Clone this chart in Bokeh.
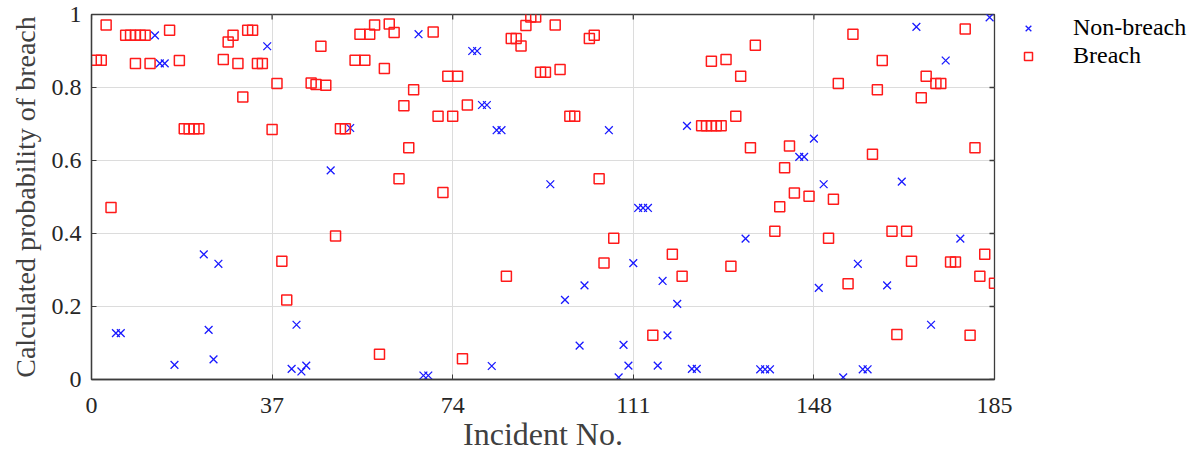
from bokeh.plotting import figure
from bokeh.models import Range1d, FixedTicker, Legend, LegendItem
from bokeh.embed import file_html
from bokeh.resources import INLINE

# Incidents predicted as non-breach (blue crosses)
non_breach_incident = [5, 6, 13, 14, 15, 17, 23, 24, 25, 26, 36, 41, 42, 43, 44, 49, 53,
                       67, 68, 69, 78, 79, 80, 81, 82, 83, 84, 94, 97, 100, 101, 106, 108,
                       109, 110, 111, 112, 113, 114, 116, 117, 118, 120, 122, 123, 124, 134,
                       137, 138, 139, 145, 146, 148, 149, 150, 154, 157, 158, 159, 163, 166,
                       169, 172, 175, 178, 184]
non_breach_prob = [0.127, 0.127, 0.943, 0.866, 0.866, 0.040, 0.343, 0.136, 0.055, 0.317,
                   0.913, 0.029, 0.150, 0.022, 0.038, 0.573, 0.689,
                   0.946, 0.011, 0.011, 0.900, 0.900, 0.752, 0.752, 0.037, 0.683, 0.683,
                   0.535, 0.218, 0.093, 0.258, 0.683, 0.006,
                   0.095, 0.038, 0.319, 0.470, 0.470, 0.470, 0.038, 0.270, 0.121, 0.207,
                   0.695, 0.029, 0.029, 0.386,
                   0.028, 0.028, 0.028, 0.610, 0.610, 0.660, 0.251, 0.535, 0.006, 0.317,
                   0.028, 0.028, 0.258, 0.542,
                   0.966, 0.150, 0.874, 0.386, 0.992]

# Incidents that ended in a breach (red squares)
breach_incident = [1, 2, 3, 4, 7, 8, 9, 9, 10, 11, 12, 16, 18, 19, 20, 21, 22, 27, 28, 29,
                   30, 31, 32, 33, 34, 35, 37, 38, 39, 40, 45, 46, 47, 48, 50, 51, 52, 54,
                   55, 56, 57, 58, 59, 60, 61, 62, 63, 64, 65, 66, 70, 71, 72, 73, 74, 75,
                   76, 77, 85, 86, 87, 88, 89, 90, 91, 92, 93, 95, 96, 98, 99, 102, 103,
                   104, 105, 107, 115, 119, 121, 125, 126, 127, 127, 128, 129, 130, 131,
                   132, 133, 135, 136, 140, 141, 142, 143, 144, 147, 151, 152, 153, 155,
                   156, 160, 161, 162, 164, 165, 167, 168, 170, 171, 173, 174, 176, 177,
                   179, 180, 181, 182, 183, 185]
breach_prob = [0.875, 0.875, 0.971, 0.471, 0.943, 0.943, 0.943, 0.866, 0.943, 0.943, 0.866,
               0.957, 0.874, 0.687, 0.687, 0.687, 0.687, 0.877, 0.925, 0.943,
               0.866, 0.774, 0.957, 0.957, 0.866, 0.866, 0.685, 0.811, 0.324, 0.218, 0.812,
               0.808, 0.913, 0.806, 0.393, 0.687, 0.687, 0.875,
               0.946, 0.875, 0.946, 0.971, 0.069, 0.852, 0.974, 0.951, 0.550, 0.750, 0.635,
               0.794, 0.952, 0.721, 0.512, 0.831, 0.721, 0.831,
               0.057, 0.752, 0.283, 0.934, 0.934, 0.914, 0.970, 0.993, 0.993, 0.842, 0.842,
               0.971, 0.849, 0.721, 0.721, 0.934, 0.943,
               0.550, 0.319, 0.387, 0.121, 0.343, 0.283, 0.695, 0.695, 0.695, 0.872, 0.695,
               0.695, 0.877, 0.310,
               0.721, 0.831, 0.635, 0.916, 0.406, 0.473, 0.580, 0.640, 0.511, 0.502, 0.387,
               0.494, 0.811, 0.262,
               0.946, 0.617, 0.794, 0.874, 0.406, 0.123, 0.406, 0.324, 0.772, 0.831, 0.811,
               0.811, 0.322, 0.322,
               0.960, 0.121, 0.635, 0.283, 0.343, 0.264]

x_ticks = [0, 37, 74, 111, 148, 185]
y_ticks = [0, 0.2, 0.4, 0.6, 0.8, 1]
y_tick_labels = ["0", "0.2", "0.4", "0.6", "0.8", "1"]

FONT = "Liberation Serif"
INK = "#262626"
FRAME = "#3c3c3c"

x_lo, x_hi = x_ticks[0], x_ticks[-1]
y_lo, y_hi = y_ticks[0], y_ticks[-1]

# fixed data-area size; the margins around it make up the 1197 x 452 canvas
p = figure(frame_width=903, frame_height=365, output_backend="svg", toolbar_location=None,
           x_range=Range1d(x_lo, x_hi), y_range=Range1d(y_lo, y_hi),
           min_border_left=91, min_border_right=203, min_border_top=14,
           min_border_bottom=73, background_fill_color="white",
           border_fill_color="white")

p.outline_line_color = FRAME
p.outline_line_width = 1.3

p.xaxis.ticker = FixedTicker(ticks=x_ticks)
p.yaxis.ticker = FixedTicker(ticks=y_ticks)
p.yaxis.major_label_overrides = {t: s for t, s in zip(y_ticks, y_tick_labels)}

for ax in (p.xaxis[0], p.yaxis[0]):
    ax.major_tick_in = 5
    ax.major_tick_out = 0
    ax.minor_tick_line_color = None
    ax.axis_line_color = FRAME
    ax.axis_line_width = 1.3
    ax.major_tick_line_color = FRAME
    ax.major_label_text_font = FONT
    ax.major_label_text_font_size = "24px"
    ax.major_label_text_color = INK
    ax.axis_label_text_font = FONT
    ax.axis_label_text_font_style = "normal"
    ax.axis_label_text_color = "#404040"

p.xaxis.axis_label = "Incident No."
p.yaxis.axis_label = "Calculated probability of breach"
p.xaxis.axis_label_text_font_size = "32px"
p.yaxis.axis_label_text_font_size = "28px"
p.xaxis.major_label_standoff = 18
p.xaxis.axis_label_standoff = 0
p.yaxis.major_label_standoff = 10
p.yaxis.axis_label_standoff = 8

p.xgrid.ticker = FixedTicker(ticks=x_ticks)
p.ygrid.ticker = FixedTicker(ticks=y_ticks)
p.grid.grid_line_color = "#dcdcdc"
p.grid.grid_line_width = 1

# inward tick marks along the top and right edges of the box (half of each
# mark is clipped away by the frame)
p.rect(x=x_ticks, y=[y_hi] * len(x_ticks), width=1.3, height=10,
       width_units="screen", height_units="screen", fill_color=FRAME, line_color=None)
p.rect(x=[x_hi] * len(y_ticks), y=y_ticks, width=10, height=1.3,
       width_units="screen", height_units="screen", fill_color=FRAME, line_color=None)

r_nb = p.scatter(non_breach_incident, non_breach_prob, marker="x", size=11,
                 line_color="#1a1aff", line_width=1.3)
r_b = p.scatter(breach_incident, breach_prob, marker="square", size=10,
                fill_color=None, line_color="#ff1a1a", line_width=1.5)

# legend in the right-hand margin, beside the box
legend = Legend(items=[LegendItem(label="Non-breach", renderers=[r_nb]),
                       LegendItem(label="Breach", renderers=[r_b])],
                location="top_left", margin=0, padding=2, glyph_width=68,
                glyph_height=20, label_standoff=11, spacing=1,
                label_text_font=FONT, label_text_font_size="24px",
                label_text_color="black", border_line_color=None,
                background_fill_alpha=0)
p.add_layout(legend, "right")

open("out.html", "w").write(file_html(p, INLINE))
